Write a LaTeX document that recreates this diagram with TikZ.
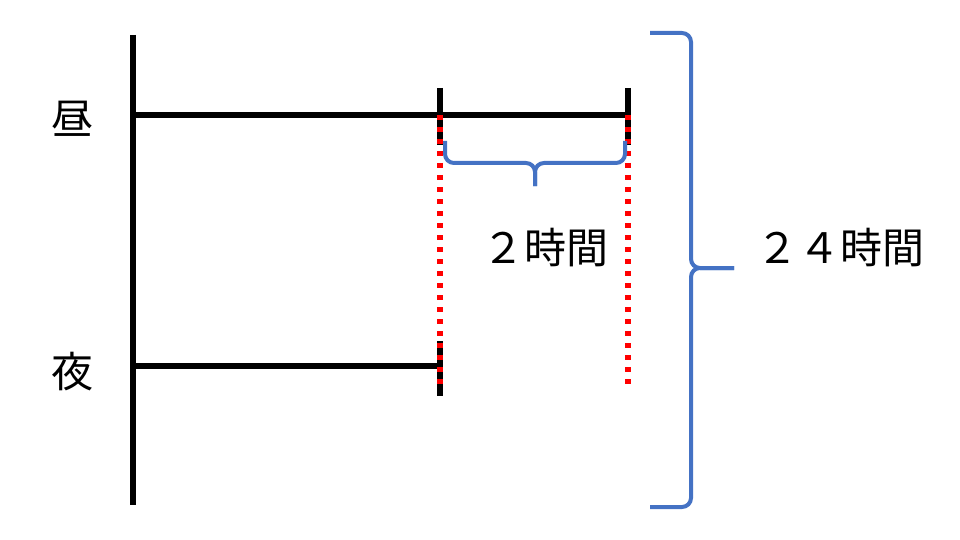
\documentclass[tikz,border=0pt]{standalone}
\usepackage{fontspec}
\setmainfont{Noto Sans CJK JP}
\definecolor{braceblue}{RGB}{68,114,196}
\definecolor{dotred}{RGB}{255,0,0}
\tikzset{
  bar/.style={line width=5.5pt},
  dotline/.style={dotred, line width=5.5pt, dash pattern=on 5pt off 7pt},
  bracket/.style={braceblue, line width=4pt, rounded corners=9pt},
  label/.style={font=\fontsize{42}{42}\selectfont, inner sep=0pt}
}
\begin{document}
\begin{tikzpicture}[x=1pt,y=-1pt]
\useasboundingbox (0,0) rectangle (960,540);
    %axis
    \coordinate (ax top) at (133,35);
    \coordinate (ax bot) at (133,505);
    \coordinate (day) at (133,115);
    \coordinate (night) at (133,366);
    \draw[bar] (ax top) -- (ax bot);
    %day and night lines
    \coordinate (day a) at (440,115);
    \coordinate (day b) at (628,115);
    \coordinate (night a) at (440,366);
    \draw[bar] (day) -- (day b);
    \draw[bar] (night) -- (night a);
    %ticks
    \foreach \x in {440,628}
        \draw[bar] (\x,88) -- (\x,145);
    \draw[bar] (440,341) -- (440,396);
    %red dotted
    \coordinate (dot a) at (440,390);
    \coordinate (dot b) at (628,390);
    \draw[dotline] (day a) -- (dot a);
    \draw[dotline] (day b) -- (dot b);
%braces
\draw[bracket] (445,141) -- (445,163) -- (535,163) -- (535,186);
\draw[bracket] (625,141) -- (625,163) -- (535,163) -- (535,186);
\draw[bracket] (650,33) -- (691,33) -- (691,268) -- (734,268);
\draw[bracket] (650,507) -- (691,507) -- (691,268) -- (734,268);
%labels
\node[label] (hiru) at (72,119) {昼};
\node[label] (yoru) at (72,372) {夜};
\node[label] (two) at (545,248) {２時間};
\node[label] (whole) at (840,248) {２４時間};
\end{tikzpicture}
\end{document}
